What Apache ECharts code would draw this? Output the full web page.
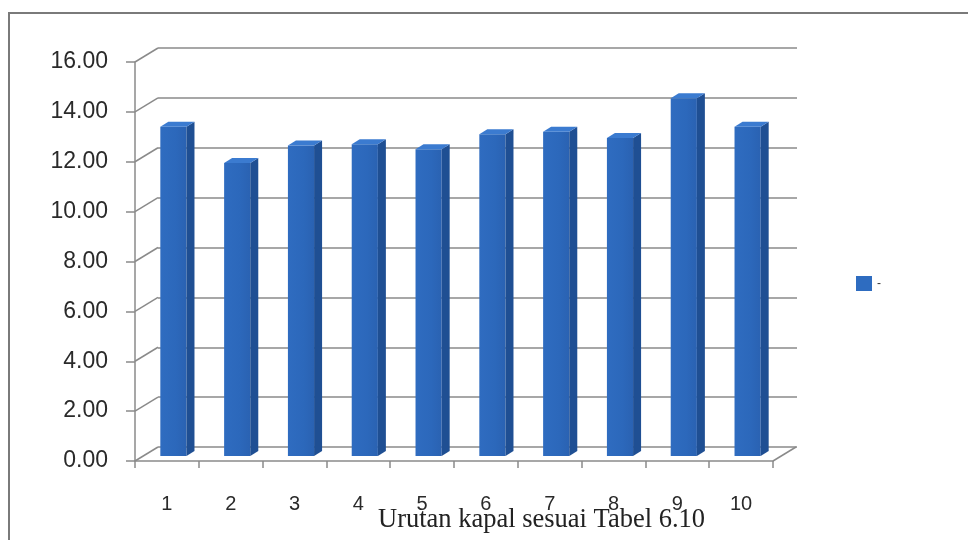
<!DOCTYPE html>
<html>
<head>
<meta charset="utf-8">
<script src="https://cdn.jsdelivr.net/npm/echarts@6/dist/echarts.min.js"></script>
<style>
  html, body { margin: 0; padding: 0; background: #fff; }
  #chart { width: 968px; height: 540px; }
</style>
</head>
<body>
<div id="chart"></div>
<script>
const categories = ["1", "2", "3", "4", "5", "6", "7", "8", "9", "10"];
const values = [13.2, 11.75, 12.45, 12.5, 12.3, 12.9, 13.0, 12.75, 14.35, 13.2];
const yTicks = [0, 2, 4, 6, 8, 10, 12, 14, 16];
const seriesName = "-";
const axisTitle = "Urutan kapal sesuai Tabel 6.10";

// 3d look: depth offset of the back wall and of the bar faces
const WALL_DX = 23, WALL_DY = -14;
const BAR_DX = 6.5, BAR_DY = -5;
const FACE_DX = 8, FACE_DY = -5;

const lineColor = "#8a8a8a";

const chart = echarts.init(document.getElementById("chart"), null, { renderer: "canvas" });

const option = {
  backgroundColor: "#ffffff",
  animation: false,
  graphic: [
    {
      type: "rect",
      shape: { x: 9, y: 13, width: 1000, height: 600 },
      style: { fill: "none", stroke: "#7a7a7a", lineWidth: 2 },
      silent: true,
    },
  ],
  title: {
    text: axisTitle,
    left: 373,
    top: 502,
    textStyle: {
      fontFamily: "Liberation Serif",
      fontWeight: "normal",
      fontSize: 26.5,
      color: "#222",
    },
  },
  legend: {
    data: [{ name: seriesName, icon: "rect" }],
    left: 851,
    top: 271,
    itemWidth: 16,
    itemHeight: 15,
    textStyle: { fontSize: 12, color: "#333", padding: [0, 0, 8, 0] },
  },
  grid: [
    { left: 135, right: 195, top: 62, bottom: 79 },
    { left: 158, right: 171, top: 48, bottom: 93 },
  ],
  xAxis: [
    {
      type: "category",
      gridIndex: 0,
      data: categories,
      axisLine: { show: true, lineStyle: { color: lineColor, width: 1.5 } },
      axisTick: { show: true, length: 7, lineStyle: { color: lineColor, width: 1.5 } },
      axisLabel: {
        color: "#2a2a2a",
        fontFamily: "Liberation Sans",
        fontSize: 20,
        margin: 33,
      },
      splitLine: { show: false },
    },
    {
      type: "category",
      gridIndex: 1,
      data: categories,
      show: false,
    },
  ],
  yAxis: [
    {
      type: "value",
      gridIndex: 0,
      min: 0,
      max: 16,
      interval: 2,
      axisLine: { show: true, lineStyle: { color: lineColor, width: 1.5 } },
      axisTick: { show: true, length: 9, lineStyle: { color: lineColor, width: 1.5 } },
      axisLabel: {
        color: "#2a2a2a",
        fontFamily: "Liberation Sans",
        fontSize: 23,
        margin: 27,
        formatter: (v) => v.toFixed(2),
      },
      splitLine: { show: false },
    },
    {
      type: "value",
      gridIndex: 1,
      min: 0,
      max: 16,
      interval: 2,
      axisLine: { show: false },
      axisTick: { show: false },
      axisLabel: { show: false },
      splitLine: { show: true, lineStyle: { color: lineColor, width: 1.5 } },
    },
  ],
  series: [
    {
      // side wall / floor edges joining the front axis to the back wall
      name: "wall",
      type: "custom",
      xAxisIndex: 0,
      yAxisIndex: 0,
      silent: true,
      data: yTicks.map((v) => [0, v]),
      encode: { x: 0, y: 1 },
      renderItem: (params, api) => {
        const v = api.value(1);
        const p = api.coord([0, v]);
        const band = api.size([1, 0])[0];
        const x0 = p[0] - band / 2;
        const children = [
          {
            type: "line",
            shape: { x1: x0, y1: p[1], x2: x0 + WALL_DX, y2: p[1] + WALL_DY },
            style: { stroke: lineColor, lineWidth: 1.5 },
          },
        ];
        if (v === 0) {
          const x1 = x0 + band * categories.length;
          children.push({
            type: "line",
            shape: { x1: x1, y1: p[1], x2: x1 + WALL_DX, y2: p[1] + WALL_DY },
            style: { stroke: lineColor, lineWidth: 1.5 },
          });
        }
        return { type: "group", children };
      },
      z: 1,
    },
    {
      name: seriesName,
      type: "custom",
      xAxisIndex: 0,
      yAxisIndex: 0,
      itemStyle: { color: "#2e6cc0" },
      data: values.map((v, i) => [i, v]),
      encode: { x: 0, y: 1 },
      renderItem: (params, api) => {
        const i = api.value(0);
        const v = api.value(1);
        const base = api.coord([i, 0]);
        const top = api.coord([i, v]);
        const band = api.size([1, 0])[0];
        const w = band * 0.41;
        const cx = base[0] + BAR_DX;
        const xl = cx - w / 2;
        const xr = cx + w / 2;
        const yt = top[1] + BAR_DY;
        const yb = base[1] + BAR_DY;
        return {
          type: "group",
          children: [
            {
              type: "rect",
              shape: { x: xl, y: yt, width: w, height: yb - yt },
              style: {
                fill: new echarts.graphic.LinearGradient(0, 0, 1, 0, [
                  { offset: 0, color: "#2f6cc0" },
                  { offset: 0.6, color: "#2c68bb" },
                  { offset: 1, color: "#2a62b2" },
                ]),
              },
            },
            {
              type: "polygon",
              shape: {
                points: [
                  [xr, yt],
                  [xr + FACE_DX, yt + FACE_DY],
                  [xr + FACE_DX, yb + FACE_DY],
                  [xr, yb],
                ],
              },
              style: { fill: "#1f4f93" },
            },
            {
              type: "polygon",
              shape: {
                points: [
                  [xl, yt],
                  [xl + FACE_DX, yt + FACE_DY],
                  [xr + FACE_DX, yt + FACE_DY],
                  [xr, yt],
                ],
              },
              style: { fill: "#3b7bd0" },
            },
          ],
        };
      },
      z: 3,
    },
  ],
};

chart.setOption(option);
</script>
</body>
</html>
